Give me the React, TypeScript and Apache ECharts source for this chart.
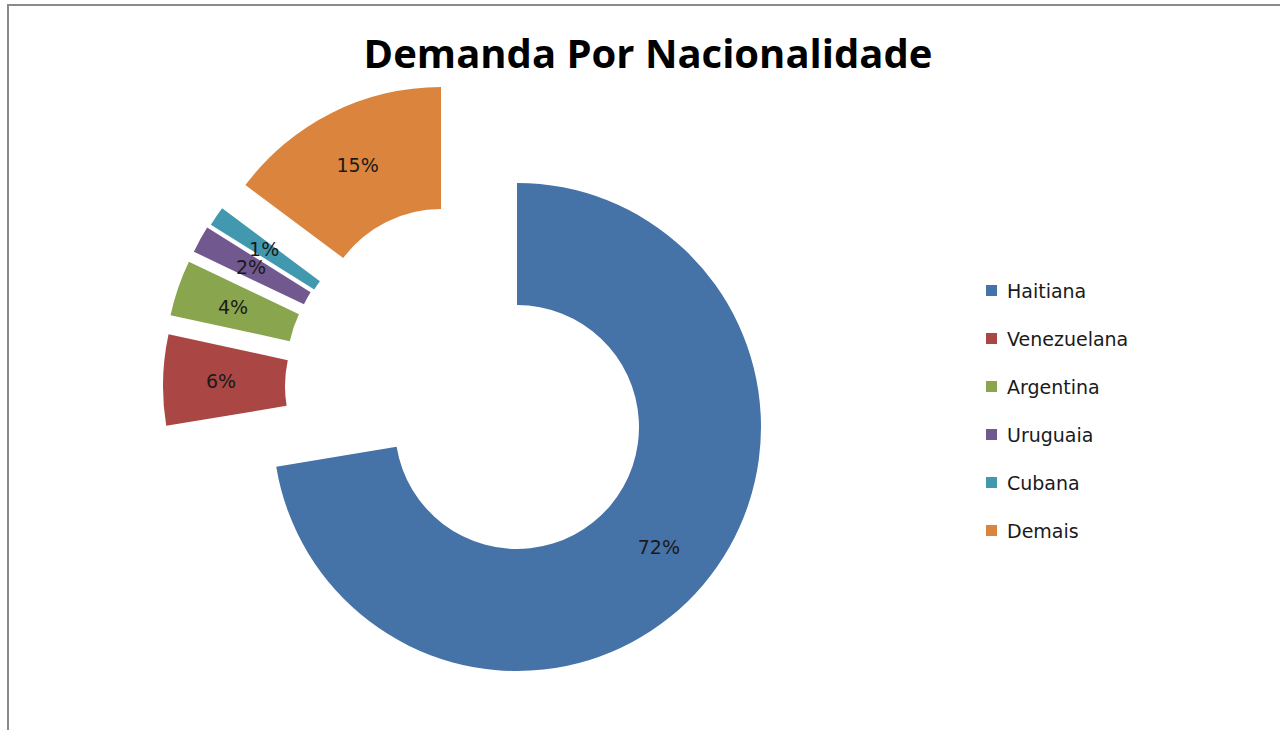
import React, { useEffect, useRef } from "react";
import * as echarts from "echarts";

const categories = ["Haitiana", "Venezuelana", "Argentina", "Uruguaia", "Cubana", "Demais"];
const shares = [72.4, 6.0, 3.7, 1.8, 1.3, 14.8];
const colors = ["#4572A7", "#AA4643", "#89A54E", "#71588F", "#4198AF", "#DB843D"];
// explosion offsets (px) of each slice from the donut centre
const explodeX = [0, -110, -108, -103, -99.3, -76];
const explodeY = [0, -41, -60, -70, -72.8, -96];

const CX = 517;
const CY = 427;
const R_IN = 122;
const R_OUT = 244;
const TEXT_FONT = "'DejaVu Sans', sans-serif";
const TITLE_FONT = "'Open Sans', sans-serif";

export default function App() {
  const ref = useRef<HTMLDivElement>(null);
  useEffect(() => {
    if (!ref.current) return;
    const chart = echarts.init(ref.current, null, { renderer: "svg" });
    const total = shares.reduce((a, b) => a + b, 0);
    let cum = 0;
    const series = categories.map((name, i) => {
      const startAngle = 90 - (cum / total) * 360;
      cum += shares[i];
      return {
        type: "pie",
        name,
        center: [CX + explodeX[i], CY + explodeY[i]],
        radius: [R_IN, R_OUT],
        startAngle,
        clockwise: true,
        avoidLabelOverlap: false,
        minShowLabelAngle: 0,
        silent: true,
        labelLayout: { hideOverlap: false },
        label: {
          show: true,
          position: "inside",
          fontFamily: TEXT_FONT,
          fontSize: 19,
          color: "#1a1a1a",
          formatter: (p: any) => Math.round((p.value / total) * 100) + "%",
        },
        labelLine: { show: false },
        emphasis: { disabled: true },
        data: [
          { name, value: shares[i], itemStyle: { color: colors[i] } },
          {
            name: "__rest" + i,
            value: total - shares[i],
            itemStyle: { color: "rgba(0,0,0,0)" },
            label: { show: false },
          },
        ],
      };
    });
    chart.setOption({
      animation: false,
      color: colors,
      backgroundColor: "#ffffff",
      title: {
        text: "Demanda Por Nacionalidade",
        left: 643,
        top: 27,
        textAlign: "center",
        textStyle: { fontFamily: TITLE_FONT, fontSize: 40, fontWeight: "bold", color: "#000000" },
      },
      legend: {
        data: categories,
        orient: "vertical",
        left: 986,
        top: 281,
        padding: 0,
        itemWidth: 11,
        itemHeight: 11,
        itemGap: 29,
        icon: "rect",
        selectedMode: false,
        textStyle: { fontFamily: TEXT_FONT, fontSize: 19, color: "#1a1a1a", padding: [0, 0, 0, 5] },
      },
      graphic: [
        {
          type: "rect",
          shape: { x: 8, y: 5, width: 1400, height: 1000 },
          style: { fill: "none", stroke: "#8a8a8a", lineWidth: 2 },
          silent: true,
        },
      ],
      series,
    });
    return () => chart.dispose();
  }, []);
  return (
    <div
      ref={ref}
      style={{ position: "fixed", left: 0, top: 0, width: 1280, height: 730 }}
    />
  );
}
